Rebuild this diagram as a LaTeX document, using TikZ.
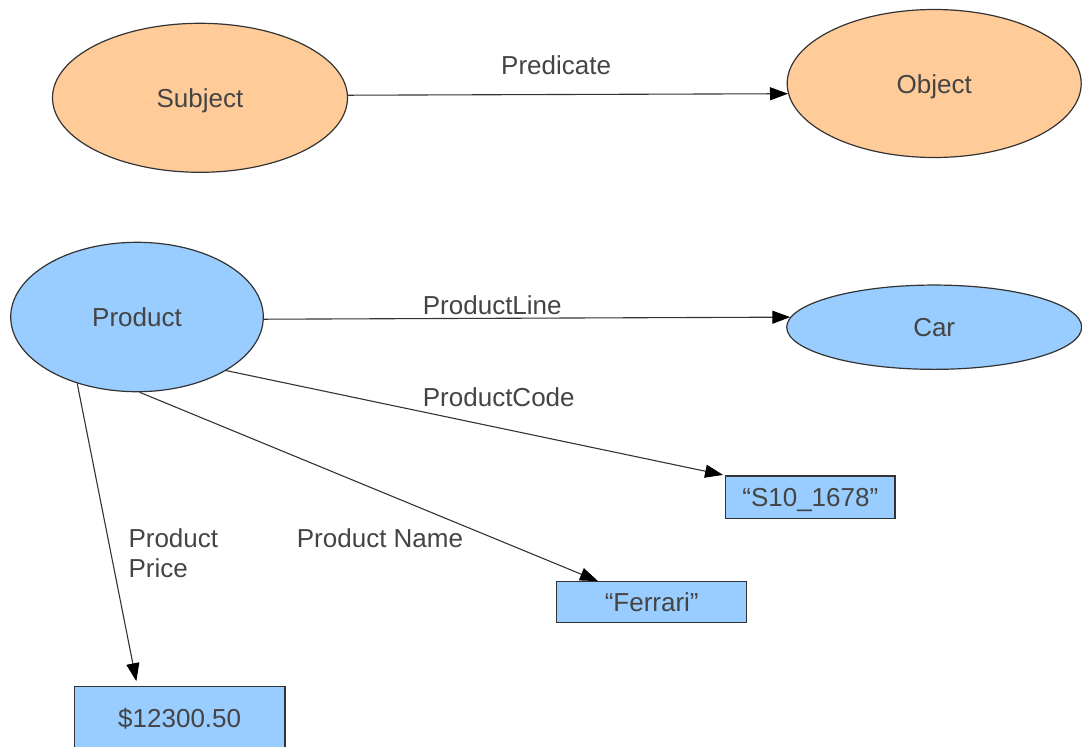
\documentclass[tikz,border=0pt]{standalone}
\usepackage{fontspec}
\setmainfont{Liberation Sans}
\usetikzlibrary{shapes.geometric,arrows.meta,calc}

\definecolor{peach}{HTML}{FFCC99}
\definecolor{sky}{HTML}{99CCFF}
\definecolor{ink}{HTML}{444444}
\definecolor{edge}{HTML}{333333}

\tikzset{
  txt/.style={font=\fontsize{26}{29.5}\selectfont, text=ink},
  shapebase/.style={txt, draw=edge, line width=1.2pt, inner sep=0pt,
    text height=19pt, text depth=0pt},
  subjobj/.style={shapebase, ellipse, fill=peach},
  resource/.style={shapebase, ellipse, fill=sky},
  literal/.style={shapebase, rectangle, fill=sky},
  rel/.style={draw=edge, line width=1.1pt,
    -{Triangle[length=18pt,width=13pt,color=black]}},
  lbl/.style={txt, inner sep=0pt, anchor=base west}
}

\begin{document}
\begin{tikzpicture}[x=1pt,y=-1pt]
  \useasboundingbox (0,0) rectangle (1082,747);

  % triple pattern
  \node[subjobj, minimum width=295pt, minimum height=149pt] (subj) at (200,97.8) {Subject};
  \node[subjobj, minimum width=294pt, minimum height=148pt] (obj) at (934.2,83.5) {Object};

  % example graph
  \node[resource, minimum width=252.6pt, minimum height=149.4pt] (prod) at (137,317) {Product};
  \node[resource, minimum width=295pt, minimum height=84.3pt] (car) at (934.2,327.2) {Car};
  \node[literal, minimum width=169.3pt, minimum height=42.7pt] (code) at (810.3,497.3) {“S10\_1678”};
  \node[literal, minimum width=190pt, minimum height=41pt] (ferrari) at (651.7,602.2) {“Ferrari”};
  \node[literal, minimum width=210.7pt, minimum height=62.4pt] (price) at (179.7,717.9) {\$12300.50};

  % edges
  \draw[rel] (subj.1.5) -- (obj.184.1);
  \draw[rel] (prod.-1) -- (car.176.9);
  \draw[rel, shorten >=2pt] (prod.-31) -- (code.north west);
  \draw[rel] (prod.-88) -- ($(ferrari.north west)!0.219!(ferrari.north east)$);
  \draw[rel, shorten >=5pt] (prod.-132) -- ($(price.north west)!0.3!(price.north east)$);

  % edge labels
  \node[lbl] (lpred) at (501,74) {Predicate};
  \node[lbl] (lline) at (422.7,314.3) {ProductLine};
  \node[lbl] (lcode) at (422.7,406.3) {ProductCode};
  \node[lbl] (lname) at (296.7,547.3) {Product Name};
  \node[txt, inner sep=0pt, anchor=north west, align=left] (lprice) at (128.3,528.5) {Product\\Price};
\end{tikzpicture}
\end{document}
